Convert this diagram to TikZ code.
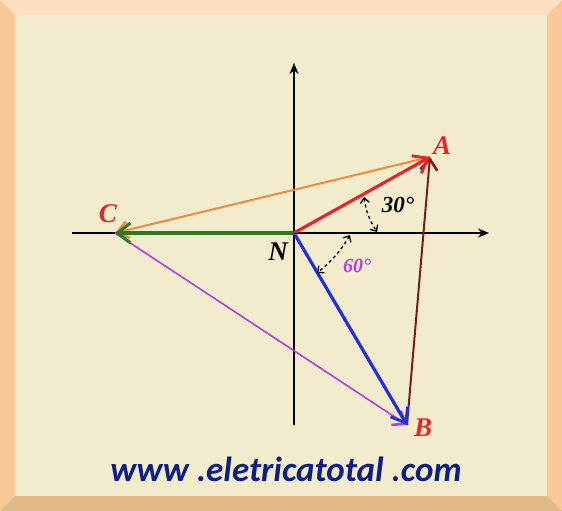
\documentclass[tikz,border=0pt]{standalone}
\usepackage{fontspec}
\newfontfamily\webfont{Carlito}
\newfontfamily\labelfont{Liberation Serif}
\usetikzlibrary{arrows.meta, positioning}

\definecolor{framecol}{HTML}{F8C996}
\definecolor{panelcol}{HTML}{F3ECCC}
\definecolor{redvec}{HTML}{E4262B}
\definecolor{bluevec}{HTML}{1F2FE0}
\definecolor{greenvec}{HTML}{2F7A1F}
\definecolor{orangevec}{HTML}{EE8A3E}
\definecolor{purplevec}{HTML}{B03FE0}
\definecolor{maroonvec}{HTML}{7A1C1C}
\definecolor{webblue}{HTML}{0D1F86}

\tikzset{
  axis/.style={line width=1.8pt, -{Stealth[length=11pt,width=9pt]}},
  phasor/.style={line width=3.2pt, -{Straight Barb[length=13pt,width=20pt,line width=3pt]}},
  line/.style={line width=2pt, -{Straight Barb[length=11pt,width=17pt,line width=2.6pt]}},
  anglearc/.style={dashed, line width=1.3pt, {Straight Barb[length=5pt,width=9pt]}-{Straight Barb[length=5pt,width=9pt]}},
  letter/.style={font=\labelfont\bfseries\itshape\fontsize{27}{27}\selectfont},
  angletext/.style={font=\labelfont\bfseries\itshape\fontsize{23}{23}\selectfont}
}

\begin{document}
\begin{tikzpicture}[x=1pt,y=-1pt]

  % frame
  \useasboundingbox (0,0) rectangle (562,511);
  \fill[framecol] (0,0) rectangle (562,511);
  \fill[framecol!60!white] (0,0) -- (562,0) -- (547,15) -- (15,15) -- cycle;
  \fill[framecol!92!black] (562,511) -- (0,511) -- (15,496) -- (547,496) -- cycle;
  \fill[panelcol] (15,15) rectangle (547,496);

  % points
  \coordinate (N) at (294,233);
  \coordinate (A) at (430,157);
  \coordinate (B) at (407,425);
  \coordinate (C) at (115,233);

  % axes
  \coordinate (xl) at (72,233);
  \coordinate (xr) at (489,233);
  \coordinate (yb) at (294,425);
  \coordinate (yt) at (294,63);
  \draw[line width=1.6pt] (xl) -- (N);
  \draw[axis] (N) -- (xr);
  \draw[line width=1.6pt] (yb) -- (N);
  \draw[axis] (N) -- (yt);

  % line voltages
  \draw[line, orangevec] (A) -- (C);
  \draw[line, purplevec, line width=1.6pt] (C) -- (B);
  \draw[line, maroonvec] (B) -- (A);

  % phase voltages
  \draw[phasor, greenvec] (N) -- (C);
  \draw[phasor, redvec] (N) -- (A);
  \draw[phasor, bluevec] (N) -- (B);

  % labels
  \node[letter, text=redvec] (la) at (442,146) {A};
  \node[letter, text=redvec] (lb) at (423,428) {B};
  \node[letter, text=redvec] (lc) at (108,214) {C};
  \node[letter] (ln) at (278,252) {N};

  % angles
  \coordinate (a1) at (364,197);
  \coordinate (a2) at (377,232);
  \draw[anglearc] (a1) to[bend right=12] (a2);
  \node[angletext] (t30) at (398,205) {30°};
  \coordinate (b1) at (350,235);
  \coordinate (b2) at (317,273);
  \draw[anglearc] (b1) to[bend left=10] (b2);
  \node[angletext, text=purplevec, font=\labelfont\bfseries\itshape\fontsize{20}{20}\selectfont] (t60) at (357,266) {60°};

  % site
  \node[text=webblue, font=\webfont\bfseries\itshape\fontsize{35}{35}\selectfont] (site) at (286,469) {www .eletricatotal .com};

\end{tikzpicture}
\end{document}
